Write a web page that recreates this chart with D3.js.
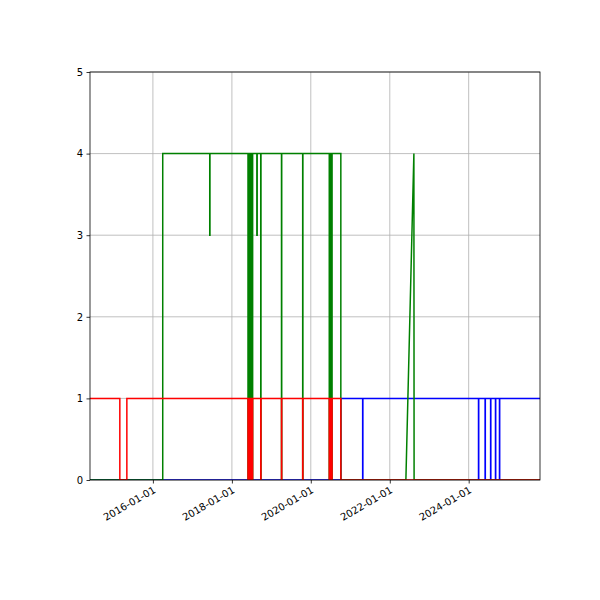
<!DOCTYPE html>
<html><head><meta charset="utf-8">
<script src="https://cdn.jsdelivr.net/npm/d3@7"></script>
<style>body{margin:0;background:#fff}</style></head>
<body><svg id="c" width="600" height="600"></svg>
<script>
const yTicks=[0,1,2,3,4,5];
const xTickLabels=["2016-01-01","2018-01-01","2020-01-01","2022-01-01","2024-01-01"];
const xDomain=["2014-05-29","2025-10-22"];

const blueDates=["2014-05-29","2020-10-05","2020-10-05","2021-04-25","2021-04-25","2021-04-27","2021-04-27","2024-04-01","2024-04-01","2024-04-03","2024-04-03","2024-06-01","2024-06-01","2024-06-03","2024-06-03","2024-07-22","2024-07-22","2024-07-24","2024-07-24","2024-09-05","2024-09-05","2024-09-07","2024-09-07","2024-10-12","2024-10-12","2024-10-14","2024-10-14","2025-10-22"];
const blueValues=[0,0,1,1,0,0,1,1,0,0,1,1,0,0,1,1,0,0,1,1,0,0,1,1,0,0,1,1];

const greenDates=["2014-05-29","2016-04-01","2016-04-01","2017-06-10","2017-06-10","2017-06-12","2017-06-12",
"2018-05-30","2018-05-30","2018-06-02","2018-06-02","2018-06-08","2018-06-08","2018-06-12","2018-06-12","2018-06-18","2018-06-18","2018-06-22","2018-06-22","2018-06-28","2018-06-28","2018-07-02","2018-07-02",
"2018-07-10","2018-07-10","2018-07-12","2018-07-12",
"2018-08-20","2018-08-20","2018-08-23","2018-08-23",
"2018-09-25","2018-09-25","2018-09-27","2018-09-27",
"2019-04-05","2019-04-05","2019-04-07","2019-04-07",
"2019-10-18","2019-10-18","2019-10-20","2019-10-20",
"2020-06-20","2020-06-20","2020-06-24","2020-06-24","2020-06-30","2020-06-30","2020-07-04","2020-07-04","2020-07-12","2020-07-12","2020-07-16","2020-07-16",
"2020-10-05","2020-10-05","2022-05-30","2022-08-12","2022-08-14","2025-10-22"];
const greenValues=[0,0,4,4,3,3,4,
4,0,0,4,4,0,0,4,4,0,0,4,4,0,0,4,
4,0,0,4,
4,3,3,4,
4,0,0,4,
4,0,0,4,
4,0,0,4,
4,0,0,4,4,0,0,4,4,0,0,4,
4,0,0,4,0,0];

const redDates=["2014-05-29","2015-03-01","2015-03-01","2015-05-05","2015-05-05",
"2018-05-30","2018-05-30","2018-06-02","2018-06-02","2018-06-08","2018-06-08","2018-06-12","2018-06-12","2018-06-18","2018-06-18","2018-06-22","2018-06-22","2018-06-28","2018-06-28","2018-07-02","2018-07-02",
"2018-07-10","2018-07-10","2018-07-12","2018-07-12",
"2018-09-25","2018-09-25","2018-09-27","2018-09-27",
"2019-04-05","2019-04-05","2019-04-07","2019-04-07",
"2019-10-18","2019-10-18","2019-10-20","2019-10-20",
"2020-06-20","2020-06-20","2020-06-24","2020-06-24","2020-06-30","2020-06-30","2020-07-04","2020-07-04","2020-07-12","2020-07-12","2020-07-16","2020-07-16",
"2020-10-05","2020-10-05","2025-10-22"];
const redValues=[1,1,0,0,1,
1,0,0,1,1,0,0,1,1,0,0,1,1,0,0,1,
1,0,0,1,
1,0,0,1,
1,0,0,1,
1,0,0,1,
1,0,0,1,1,0,0,1,1,0,0,1,
1,0,0];

const series=[{d:blueDates,v:blueValues,c:"#0000ff"},{d:greenDates,v:greenValues,c:"#008000"},{d:redDates,v:redValues,c:"#ff0000"}];

const P=d3.timeParse("%Y-%m-%d");
const L=90,R=540,T=72,B=480;
const svg=d3.select("#c");
const x=d3.scaleTime().domain(xDomain.map(P)).range([L,R]);
const y=d3.scaleLinear().domain([0,5]).range([B,T]);
const g=svg.append("g");
xTickLabels.forEach(t=>g.append("line").attr("x1",x(P(t))).attr("x2",x(P(t))).attr("y1",T).attr("y2",B).attr("stroke","#b0b0b0").attr("stroke-width",0.8));
yTicks.forEach(t=>g.append("line").attr("x1",L).attr("x2",R).attr("y1",y(t)).attr("y2",y(t)).attr("stroke","#b0b0b0").attr("stroke-width",0.8));
const line=d3.line().x(p=>x(p[0])).y(p=>y(p[1]));
svg.append("defs").append("clipPath").attr("id","cp").append("rect").attr("x",L).attr("y",T).attr("width",R-L).attr("height",B-T);
series.forEach(s=>{
  const pts=s.d.map((d,i)=>[P(d),s.v[i]]);
  svg.append("path").attr("d",line(pts)).attr("fill","none").attr("stroke",s.c).attr("stroke-width",1.5).attr("clip-path","url(#cp)");
});
svg.append("rect").attr("x",L).attr("y",T).attr("width",R-L).attr("height",B-T).attr("fill","none").attr("stroke","#000").attr("stroke-width",0.8);
const ya=svg.append("g").attr("transform",`translate(${L},0)`).call(d3.axisLeft(y).tickValues(yTicks).tickSize(3.5).tickPadding(3.5).tickFormat(d3.format("d")));
const xa=svg.append("g").attr("transform",`translate(0,${B})`).call(d3.axisBottom(x).tickValues(xTickLabels.map(P)).tickSize(3.5).tickFormat(d3.timeFormat("%Y-%m-%d")));
[ya,xa].forEach(a=>{a.select(".domain").remove();a.selectAll("text").attr("font-family","DejaVu Sans").attr("font-size",10).attr("fill","#000");a.selectAll("line").attr("stroke","#000").attr("stroke-width",0.8);});
xa.selectAll("text").attr("text-anchor","end").attr("dy",null).attr("y",0).attr("transform","translate(3,12) rotate(-30)");
</script></body></html>
